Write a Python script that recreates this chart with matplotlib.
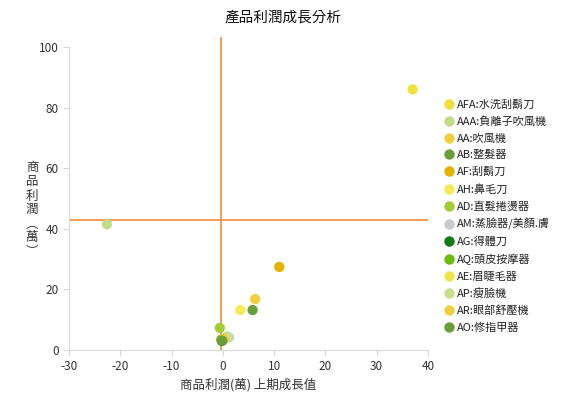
import matplotlib.pyplot as plt
from matplotlib.lines import Line2D

plt.rcParams['font.family'] = ['Noto Sans CJK TC', 'DejaVu Sans']
plt.rcParams['axes.unicode_minus'] = False

labels = ["AFA:水洗刮鬍刀", "AAA:負離子吹風機", "AA:吹風機", "AB:整髮器", "AF:刮鬍刀",
          "AH:鼻毛刀", "AD:直髮捲燙器", "AM:蒸臉器/美顏.膚", "AG:得體刀", "AQ:頭皮按摩器",
          "AE:眉睫毛器", "AP:瘦臉機", "AR:眼部舒壓機", "AO:修指甲器"]
growth = [37.0, -22.6, 6.3, 5.8, 11.0, 3.4, -0.6, 1.2, -0.2, -0.3, 0.4, 0.8, 0.2, -0.1]
profit = [86.0, 41.5, 16.8, 13.2, 27.4, 13.2, 7.3, 4.2, 3.0, 3.4, 3.8, 4.5, 3.6, 3.1]
colors = ["#f0e040", "#c4dc8a", "#efd040", "#6b9e3a", "#e4b100", "#f5ea5a", "#a4cc36",
          "#c8ccd2", "#147a1a", "#6cba12", "#f2e44c", "#c6e090", "#efd040", "#6b9e3a"]
avg_growth = -0.4
avg_profit = 42.9

fig = plt.figure(figsize=(5.64, 3.97), dpi=100)
ax = fig.add_axes([69 / 564, 47 / 397, 359 / 564, 303 / 397])

for x, y, c in zip(growth, profit, colors):
    ax.scatter(x, y, s=55, color=c, edgecolors='none', zorder=3)

ax.plot([-30, 40], [avg_profit, avg_profit], color="#f7934a", lw=1.3, zorder=2)
ax.plot([avg_growth, avg_growth], [0, 103], color="#f7934a", lw=1.3, zorder=2, clip_on=False)

ax.set_xlim(-30, 40)
ax.set_ylim(0, 100)
ax.set_xticks(range(-30, 41, 10))
ax.set_yticks(range(0, 101, 20))
for s in ["top", "right"]:
    ax.spines[s].set_visible(False)
for s in ["left", "bottom"]:
    ax.spines[s].set_color("#d9d9d9")
ax.tick_params(colors="#d9d9d9", labelcolor="#333333", labelsize=8.5, length=4, width=0.8)

ax.set_xlabel("商品利潤(萬) 上期成長值", fontsize=9, color="#333333", labelpad=3)
fig.text(32 / 564, 1 - 210 / 397, "商\n品\n利\n潤\n︵\n萬\n︶", fontsize=9, color="#333333",
         ha="center", va="center", linespacing=1.1)
fig.text(283 / 564, 1 - 17 / 397, "產品利潤成長分析", fontsize=10.5, color="#111111",
         ha="center", va="center")

handles = [Line2D([], [], marker="o", ls="none", markersize=7.5, markerfacecolor=c,
                  markeredgecolor="none", label=l) for l, c in zip(labels, colors)]
fig.legend(handles=handles, loc="upper left", bbox_to_anchor=(438 / 564, 1 - 95 / 397),
           frameon=False, fontsize=8, handletextpad=0.1, labelspacing=0.58,
           borderaxespad=0, handlelength=1.2, labelcolor="#222222")

fig.savefig("out.png", dpi=100)
